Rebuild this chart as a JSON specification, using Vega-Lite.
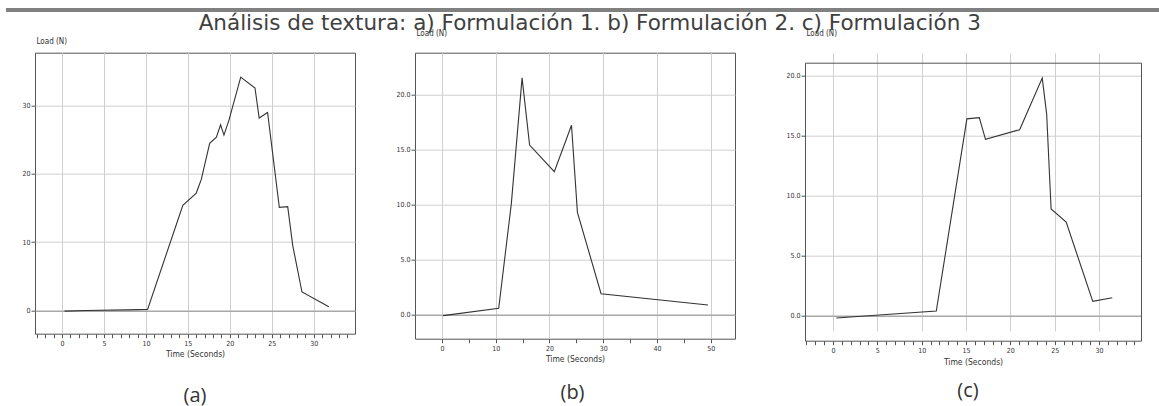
{
  "$schema": "https://vega.github.io/schema/vega-lite/v6.json",
  "padding": {"left": 5, "top": 8, "right": 0, "bottom": 0},
  "background": "white",
  "datasets": {
    "a": [
      {"time": 0.3, "load": -0.1}, {"time": 2.8, "load": -0.02}, {"time": 7.8, "load": 0.08}, {"time": 10.2, "load": 0.15},
      {"time": 14.4, "load": 15.4}, {"time": 16.0, "load": 17.2}, {"time": 16.6, "load": 19.2}, {"time": 17.6, "load": 24.5},
      {"time": 18.4, "load": 25.4}, {"time": 18.9, "load": 27.2}, {"time": 19.3, "load": 25.7}, {"time": 19.9, "load": 27.9},
      {"time": 21.3, "load": 34.2}, {"time": 23.0, "load": 32.6}, {"time": 23.5, "load": 28.2}, {"time": 24.5, "load": 29.0},
      {"time": 25.9, "load": 15.1}, {"time": 26.9, "load": 15.2}, {"time": 27.5, "load": 9.5}, {"time": 28.6, "load": 2.7},
      {"time": 31.8, "load": 0.55}
    ],
    "b": [
      {"time": 0.2, "load": -0.06}, {"time": 10.55, "load": 0.6}, {"time": 12.9, "load": 10.1}, {"time": 14.9, "load": 21.5},
      {"time": 16.3, "load": 15.4}, {"time": 20.9, "load": 13.0}, {"time": 24.1, "load": 17.2}, {"time": 25.2, "load": 9.3},
      {"time": 29.6, "load": 1.93}, {"time": 49.5, "load": 0.9}
    ],
    "c": [
      {"time": 0.37, "load": -0.19}, {"time": 11.65, "load": 0.39}, {"time": 15.1, "load": 16.4}, {"time": 16.5, "load": 16.5},
      {"time": 17.2, "load": 14.7}, {"time": 21.05, "load": 15.5}, {"time": 23.6, "load": 19.8}, {"time": 24.1, "load": 16.8},
      {"time": 24.6, "load": 8.9}, {"time": 26.3, "load": 7.8}, {"time": 29.3, "load": 1.2}, {"time": 31.5, "load": 1.5}
    ],
    "header": [{"band": "header"}]
  },
  "columns": 1,
  "align": "none",
  "spacing": 0.7,
  "concat": [
    {
      "width": 1125,
      "height": 4,
      "view": {"stroke": null},
      "data": {"name": "header"},
      "mark": {"type": "rect", "color": "#808080"},
      "encoding": {
        "x": {"datum": -0.0258, "type": "quantitative", "scale": {"domain": [0, 1], "nice": false, "zero": false}, "axis": null},
        "x2": {"datum": 1},
        "y": {"datum": 0, "type": "quantitative", "scale": {"domain": [0, 1], "nice": false}, "axis": null},
        "y2": {"datum": 1}
      }
    },
    {
      "title": {
        "text": "Análisis de textura: a) Formulación 1. b) Formulación 2. c) Formulación 3",
        "orient": "top", "anchor": "middle", "baseline": "top", "offset": -5.2, "dx": 16,
        "font": "DejaVu Sans", "fontSize": 21.5, "fontWeight": "normal", "color": "#404040"
      },
      "columns": 3,
      "align": "none",
      "spacing": 20,
      "concat": [
        {
          "width": 320, "height": 281,
          "title": {"text": "(a)", "orient": "bottom", "anchor": "middle", "frame": "group", "offset": 28, "baseline": "top",
            "font": "Open Sans", "fontSize": 20, "fontWeight": "normal", "color": "#333333"},
          "data": {"name": "a"},
          "mark": {"type": "line", "color": "#333333", "strokeWidth": 1.1},
          "encoding": {
            "x": {"field": "time", "type": "quantitative",
              "scale": {"domain": [-3.22, 34.92], "nice": false, "zero": false},
              "axis": {
                "values": [-3, -2, -1, 0, 1, 2, 3, 4, 5, 6, 7, 8, 9, 10, 11, 12, 13, 14, 15, 16, 17, 18, 19, 20, 21, 22, 23, 24, 25, 26, 27, 28, 29, 30, 31, 32, 33, 34],
                "labelExpr": "datum.value % 5 === 0 ? datum.label : ''",
                "gridOpacity": {"condition": {"test": "datum.value % 5 === 0", "value": 1}, "value": 0},
                "tickSize": 4, "labelPadding": 1.5, "labelFontSize": 7,
                "title": "Time (Seconds)", "titleFontSize": 8.5, "titlePadding": 3
              }
            },
            "y": {"field": "load", "type": "quantitative",
              "scale": {"domain": [-3.41, 37.77], "nice": false, "zero": false},
              "axis": {
                "values": [0, 10, 20, 30],
                "tickSize": 4, "labelPadding": 1, "labelFontSize": 7, "minExtent": 28,
                "gridColor": {"condition": {"test": "datum.value === 0", "value": "#a8a8a8"}, "value": "#cfcfcf"},
                "gridWidth": {"condition": {"test": "datum.value === 0", "value": 1.6}, "value": 1},
                "title": "Load (N)", "titleAngle": 0, "titleAlign": "left", "titleBaseline": "bottom",
                "titleX": 1, "titleY": -7, "titleFontSize": 8
              }
            }
          }
        },
        {
          "width": 320, "height": 286,
          "title": {"text": "(b)", "orient": "bottom", "anchor": "middle", "frame": "group", "offset": 20.5, "dx": -2.5, "baseline": "top",
            "font": "Open Sans", "fontSize": 20, "fontWeight": "normal", "color": "#333333"},
          "data": {"name": "b"},
          "mark": {"type": "line", "color": "#333333", "strokeWidth": 1.1},
          "encoding": {
            "x": {"field": "time", "type": "quantitative",
              "scale": {"domain": [-5.03, 54.53], "nice": false, "zero": false},
              "axis": {
                "values": [0, 5, 10, 15, 20, 25, 30, 35, 40, 45, 50],
                "labelExpr": "datum.value % 10 === 0 ? datum.label : ''",
                "gridOpacity": {"condition": {"test": "datum.value % 10 === 0", "value": 1}, "value": 0},
                "tickSize": 4, "labelPadding": 1.5, "labelFontSize": 7,
                "title": "Time (Seconds)", "titleFontSize": 8.5, "titlePadding": 3
              }
            },
            "y": {"field": "load", "type": "quantitative",
              "scale": {"domain": [-2.15, 23.78], "nice": false, "zero": false},
              "axis": {
                "values": [0, 5, 10, 15, 20], "format": ".1f",
                "tickSize": 4, "labelPadding": 1, "labelFontSize": 7, "minExtent": 38.5,
                "gridColor": {"condition": {"test": "datum.value === 0", "value": "#a8a8a8"}, "value": "#cfcfcf"},
                "gridWidth": {"condition": {"test": "datum.value === 0", "value": 1.6}, "value": 1},
                "title": "Load (N)", "titleAngle": 0, "titleAlign": "left", "titleBaseline": "bottom",
                "titleX": 1, "titleY": -15, "titleFontSize": 8
              }
            }
          }
        },
        {
          "width": 336, "height": 288,
          "view": {"stroke": null},
          "title": {"text": "(c)", "orient": "bottom", "anchor": "middle", "frame": "group", "offset": 14.4, "dx": -5, "baseline": "top",
            "font": "Open Sans", "fontSize": 20, "fontWeight": "normal", "color": "#333333"},
          "data": {"name": "c"},
          "resolve": {"axis": {"x": "independent", "y": "independent"}},
          "layer": [
            {
              "mark": {"type": "line", "color": "#333333", "strokeWidth": 1.1},
              "encoding": {
                "x": {"field": "time", "type": "quantitative",
                  "scale": {"domain": [-3.16, 34.74], "nice": false, "zero": false},
                  "axis": {
                    "values": [-3, -2, -1, 0, 1, 2, 3, 4, 5, 6, 7, 8, 9, 10, 11, 12, 13, 14, 15, 16, 17, 18, 19, 20, 21, 22, 23, 24, 25, 26, 27, 28, 29, 30, 31, 32, 33, 34],
                    "labelExpr": "datum.value % 5 === 0 ? datum.label : ''",
                    "gridOpacity": {"condition": {"test": "datum.value % 5 === 0", "value": 1}, "value": 0},
                    "domain": true, "domainColor": "#555555",
                    "tickSize": 4, "labelPadding": 1.5, "labelFontSize": 7,
                    "title": "Time (Seconds)", "titleFontSize": 8.5, "titlePadding": 4.5
                  }
                },
                "y": {"field": "load", "type": "quantitative",
                  "scale": {"domain": [-2.08, 21.08], "range": [288, 10], "nice": false, "zero": false},
                  "axis": {
                    "values": [0, 5, 10, 15, 20], "format": ".1f",
                    "domain": true, "domainColor": "#555555",
                    "tickSize": 4, "labelPadding": 1, "labelFontSize": 7, "minExtent": 48.5,
                    "gridColor": {"condition": {"test": "datum.value === 0", "value": "#a8a8a8"}, "value": "#cfcfcf"},
                    "gridWidth": {"condition": {"test": "datum.value === 0", "value": 1.6}, "value": 1},
                    "title": "Load (N)", "titleAngle": 0, "titleAlign": "left", "titleBaseline": "bottom",
                    "titleX": 1, "titleY": -15, "titleFontSize": 8
                  }
                }
              }
            },
            {
              "mark": {"type": "line", "opacity": 0},
              "encoding": {
                "x": {"field": "time", "type": "quantitative",
                  "axis": {"orient": "top", "offset": -10, "domain": true, "domainColor": "#555555", "ticks": false, "labels": false, "grid": false, "title": null}},
                "y": {"field": "load", "type": "quantitative",
                  "axis": {"orient": "right", "domain": true, "domainColor": "#555555", "ticks": false, "labels": false, "grid": false, "title": null}}
              }
            }
          ]
        }
      ]
    }
  ],
  "config": {
    "view": {"stroke": "#555555", "strokeWidth": 1},
    "axis": {
      "domain": false,
      "labelFont": "DejaVu Sans Condensed, sans-serif",
      "labelColor": "#333333",
      "labelOverlap": false,
      "labelFlush": false,
      "labelBound": false,
      "tickColor": "#555555",
      "tickWidth": 1,
      "gridColor": "#cfcfcf",
      "gridWidth": 1,
      "titleFont": "DejaVu Sans Condensed, sans-serif",
      "titleFontWeight": "normal",
      "titleColor": "#333333"
    }
  }
}
